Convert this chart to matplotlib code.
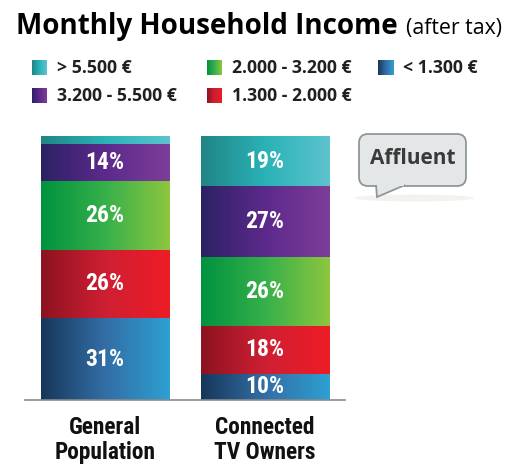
import matplotlib
matplotlib.use("Agg")
import matplotlib.pyplot as plt
import numpy as np
from matplotlib.colors import LinearSegmentedColormap
from matplotlib.patches import FancyBboxPatch, Polygon, Rectangle, Ellipse

categories = ["General\nPopulation", "Connected\nTV Owners"]
series_names = ["< 1.300 €", "1.300 - 2.000 €", "2.000 - 3.200 €", "3.200 - 5.500 €", "> 5.500 €"]
values = {
    "< 1.300 €":       [31, 10],
    "1.300 - 2.000 €": [26, 18],
    "2.000 - 3.200 €": [26, 26],
    "3.200 - 5.500 €": [14, 27],
    "> 5.500 €":       [3, 19],
}
show_label = {
    "< 1.300 €":       [True, True],
    "1.300 - 2.000 €": [True, True],
    "2.000 - 3.200 €": [True, True],
    "3.200 - 5.500 €": [True, True],
    "> 5.500 €":       [False, True],
}
gradients = {
    "< 1.300 €":       ["#17375a", "#336ea6", "#2da0d2"],
    "1.300 - 2.000 €": ["#8c1320", "#cf1f33", "#ee1c25"],
    "2.000 - 3.200 €": ["#00923f", "#36b04a", "#8dc63f"],
    "3.200 - 5.500 €": ["#2d2164", "#5c2a8c", "#7d3d98"],
    "> 5.500 €":       ["#208585", "#2ab2b7", "#5dc3cd"],
}
legend_order = ["> 5.500 €", "2.000 - 3.200 €", "< 1.300 €", "3.200 - 5.500 €", "1.300 - 2.000 €"]

W, H = 521, 469
fig = plt.figure(figsize=(W / 100, H / 100), dpi=100)
fig.patch.set_facecolor("white")

def fx(px):
    return px / W

def fy(py):
    return 1 - py / H

COND = ["Roboto Condensed", "Roboto", "DejaVu Sans"]
SANS = ["Open Sans", "DejaVu Sans"]

# main axes: x from 25 to 345 px, y from 136 (100%) to 400 (0%)
ax = fig.add_axes([fx(25), fy(400), fx(345) - fx(25), fy(136) - fy(400)])
ax.set_xlim(-0.5, 1.5)
ax.set_ylim(0, 100)
ax.axis("off")
ax.plot([-0.5, 1.5], [0, 0], color="#8a8a8a", lw=1.2, clip_on=False, zorder=5)

x = np.arange(len(categories))
width = 0.806
grad = np.linspace(0, 1, 256).reshape(1, -1)
bottoms = np.zeros(len(categories))
for name in series_names:
    vals = np.array(values[name], dtype=float)
    cmap = LinearSegmentedColormap.from_list(name, gradients[name])
    bars = ax.bar(x, vals, width, bottom=bottoms, color="none", edgecolor="none")
    for i, b in enumerate(bars):
        x0, y0 = b.get_x(), b.get_y()
        im = ax.imshow(grad, cmap=cmap, aspect="auto",
                       extent=[x0, x0 + b.get_width(), y0, y0 + b.get_height()],
                       zorder=2)
        im.set_clip_path(b)
        if show_label[name][i]:
            ax.text(x[i], y0 + b.get_height() / 2, f"{int(vals[i])}%",
                    ha="center", va="center", color="white", fontsize=17,
                    fontweight="bold", family=COND, zorder=4)
    bottoms += vals
ax.set_xlim(-0.5, 1.5)
ax.set_ylim(0, 100)

# category labels
for i, c in enumerate(categories):
    xp = ax.transData.transform((x[i], 0))[0]
    fig.text(xp / W, fy(416), c, ha="center", va="top", fontsize=16.8,
             fontweight="bold", family=COND, linespacing=1.12, color="#111111")

# title
fig.text(fx(16), fy(34), "Monthly Household Income", fontsize=20,
         fontweight="bold", family=SANS, va="baseline")
fig.text(fx(406), fy(34), "(after tax)", fontsize=15.3,
         family=SANS, va="baseline")

# legend
leg_pos = [(32, 68), (207, 68), (378, 68), (32, 96), (207, 96)]
for name, (lx, ly) in zip(legend_order, leg_pos):
    cmap = LinearSegmentedColormap.from_list(name + "_l", gradients[name])
    lax = fig.add_axes([fx(lx), fy(ly + 7.5), 15 / W, 15 / H])
    lax.imshow(grad, cmap=cmap, aspect="auto")
    lax.axis("off")
    fig.text(fx(lx + 25), fy(ly), name, fontsize=12.7, fontweight="bold",
             va="center", color="#231f20", family=SANS)

# speech bubble "Affluent"
bax = fig.add_axes([0, 0, 1, 1], facecolor="none")
bax.set_xlim(0, W)
bax.set_ylim(H, 0)
bax.axis("off")
bax.add_patch(Ellipse((414, 198), 120, 7, fc="#eeede8", ec="none", alpha=0.7))
box = FancyBboxPatch((359, 134), 107, 52, boxstyle="round,pad=0,rounding_size=9",
                     fc="#e4e7e8", ec="#8f9799", lw=1.3, zorder=3)
bax.add_patch(box)
tail = Polygon([[376, 185], [377, 197], [405, 185]], closed=False,
               fc="#e4e7e8", ec="#8f9799", lw=1.3, zorder=3)
bax.add_patch(tail)
bax.add_patch(Rectangle((377.5, 183), 26, 3, fc="#e4e7e8", ec="none", zorder=4))
bax.text(413, 158, "Affluent", ha="center", va="center", fontsize=15,
         fontweight="bold", color="#3a3a3a", family=SANS, zorder=5)

fig.savefig("out.png", dpi=100, facecolor="white")
